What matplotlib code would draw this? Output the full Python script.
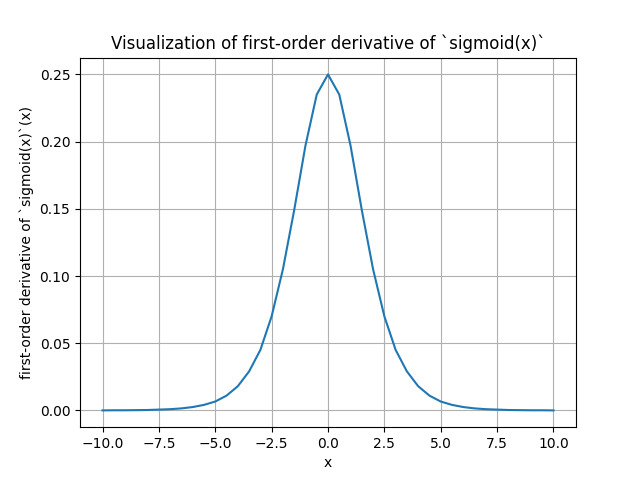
import matplotlib
matplotlib.use("Agg")
import matplotlib.pyplot as plt

x_pos = [0.0, 0.5, 1.0, 1.5, 2.0, 2.5, 3.0, 3.5, 4.0, 4.5, 5.0, 5.5, 6.0, 6.5, 7.0, 7.5, 8.0, 8.5, 9.0, 9.5, 10.0]
y_pos = [0.25, 0.235, 0.197, 0.149, 0.105, 0.070, 0.045, 0.029, 0.018, 0.011, 0.0066, 0.0041, 0.0025, 0.0015, 0.0009, 0.0006, 0.0003, 0.0002, 0.0001, 0.0001, 0.0000]

x_vals = [-v for v in x_pos[:0:-1]] + x_pos
y_vals = y_pos[:0:-1] + y_pos

fig, ax = plt.subplots(figsize=(6.4, 4.8), dpi=100)
ax.plot(x_vals, y_vals, color="#1f77b4")
ax.set_title("Visualization of first-order derivative of `sigmoid(x)`")
ax.set_xlabel("x")
ax.set_ylabel("first-order derivative of `sigmoid(x)`(x)")
ax.grid(True)
fig.savefig("out.png")
